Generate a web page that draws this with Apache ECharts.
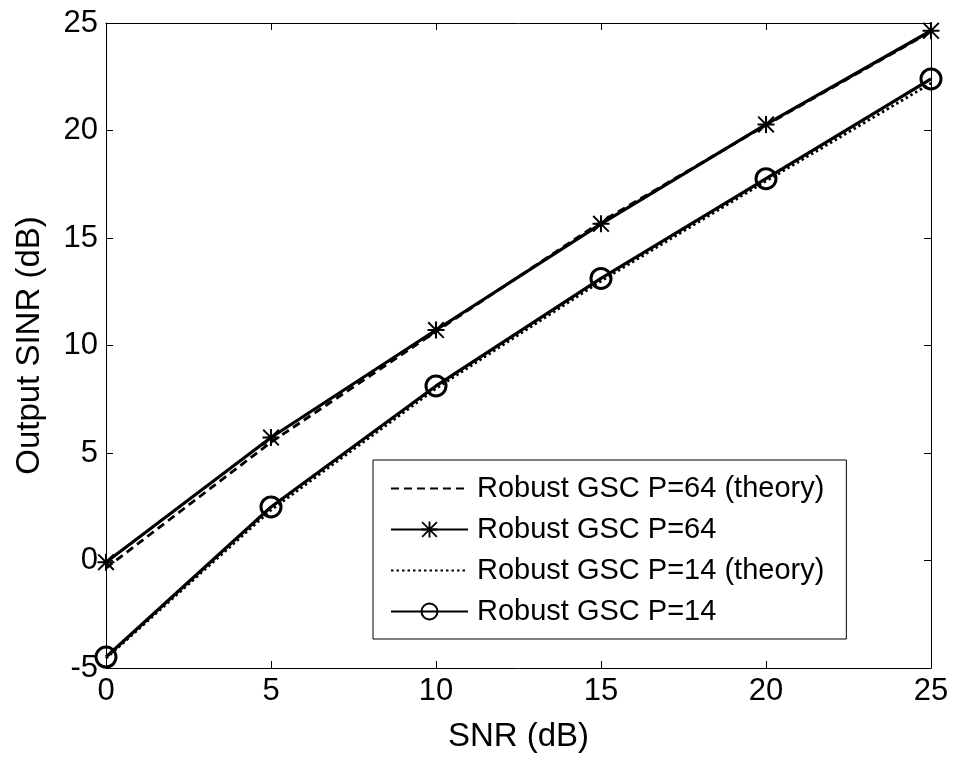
<!DOCTYPE html>
<html>
<head>
<meta charset="utf-8">
<script src="https://cdn.jsdelivr.net/npm/echarts@6/dist/echarts.min.js"></script>
<style>
  html, body { margin: 0; padding: 0; background: #fff; }
  #chart { width: 955px; height: 758px; }
</style>
</head>
<body>
<div id="chart"></div>
<script>
// SNR sweep (dB)
const snr = [0, 5, 10, 15, 20, 25];

// Output SINR (dB) for each configuration
const p64Theory = [-0.35, 5.5, 10.65, 15.75, 20.25, 24.6];
const p64Sim    = [-0.08, 5.72, 10.72, 15.66, 20.28, 24.64];
const p14Theory = [-4.55, 2.35, 8.0, 13.0, 17.65, 22.2];
const p14Sim    = [-4.49, 2.49, 8.12, 13.12, 17.76, 22.4];

const seriesNames = [
  'Robust GSC P=64 (theory)',
  'Robust GSC P=64',
  'Robust GSC P=14 (theory)',
  'Robust GSC P=14'
];

const xTicks = [0, 5, 10, 15, 20, 25];
const yTicks = [-5, 0, 5, 10, 15, 20, 25];

// '*' marker: horizontal, vertical and two diagonal strokes
const starPath = 'path://M0,44L100,44L100,56L0,56Z M44,0L56,0L56,100L44,100Z ' +
  'M8,0L100,92L92,100L0,8Z M92,0L100,8L8,100L0,92Z';

const FONT = 'Liberation Sans, Arial, Helvetica, sans-serif';

const pairs = ys => snr.map((x, i) => [x, ys[i]]);

const chart = echarts.init(document.getElementById('chart'), null, { renderer: 'canvas' });

const axisCommon = {
  axisLine: { show: true, onZero: false, lineStyle: { color: '#000', width: 1 } },
  axisTick: { show: true, inside: true, length: 7, lineStyle: { color: '#000', width: 1 } },
  splitLine: { show: false }
};

const LW = 3.2;

chart.setOption({
  animation: false,
  backgroundColor: '#fff',
  grid: { left: 106, right: 24, top: 23, bottom: 89, containLabel: false },
  xAxis: [
    Object.assign({
      type: 'value', min: 0, max: 25, interval: 5, position: 'bottom',
      name: 'SNR (dB)', nameLocation: 'middle', nameGap: 52,
      nameTextStyle: { color: '#000', fontSize: 33, fontFamily: FONT },
      axisLabel: {
        color: '#000', fontSize: 31, fontFamily: FONT, margin: 8,
        formatter: v => xTicks.includes(v) ? String(v) : ''
      }
    }, axisCommon),
    Object.assign({
      type: 'value', min: 0, max: 25, interval: 5, position: 'top',
      axisLabel: { show: false }
    }, axisCommon)
  ],
  yAxis: [
    Object.assign({
      type: 'value', min: -5, max: 25, interval: 5, position: 'left',
      name: 'Output SINR (dB)', nameLocation: 'middle', nameGap: 60,
      nameTextStyle: { color: '#000', fontSize: 33, fontFamily: FONT },
      axisLabel: {
        color: '#000', fontSize: 31, fontFamily: FONT, margin: 8,
        formatter: v => yTicks.includes(v) ? String(v) : ''
      }
    }, axisCommon),
    Object.assign({
      type: 'value', min: -5, max: 25, interval: 5, position: 'right',
      axisLabel: { show: false }
    }, axisCommon)
  ],
  legend: {
    orient: 'vertical',
    left: 373, top: 460,
    data: [
      { name: seriesNames[0], itemStyle: { opacity: 0 } },
      { name: seriesNames[1] },
      { name: seriesNames[2], itemStyle: { opacity: 0 } },
      { name: seriesNames[3] }
    ],
    itemWidth: 77, itemHeight: 20, itemGap: 12,
    padding: [14, 22, 13, 17],
    borderColor: '#000', borderWidth: 1,
    backgroundColor: '#fff',
    textStyle: { color: '#000', fontSize: 29, fontFamily: FONT, padding: [0, 0, 0, 4] },
    selectedMode: false
  },
  series: [
    {
      name: seriesNames[0], type: 'line', data: pairs(p64Theory),
      symbol: 'none', z: 2,
      itemStyle: { color: '#000' },
      lineStyle: { color: '#000', width: 2.8, type: [8, 5] }
    },
    {
      name: seriesNames[1], type: 'line', data: pairs(p64Sim),
      symbol: starPath, symbolSize: 17, z: 3,
      itemStyle: { color: '#000', borderWidth: 0 },
      lineStyle: { color: '#000', width: LW }
    },
    {
      name: seriesNames[2], type: 'line', data: pairs(p14Theory),
      symbol: 'none', z: 2,
      itemStyle: { color: '#000' },
      lineStyle: { color: '#000', width: 2.8, type: [2.5, 3] }
    },
    {
      name: seriesNames[3], type: 'line', data: pairs(p14Sim),
      symbol: 'circle', symbolSize: 20, z: 3,
      itemStyle: { color: 'rgba(0,0,0,0)', borderColor: '#000', borderWidth: 3 },
      lineStyle: { color: '#000', width: LW }
    }
  ]
});
</script>
</body>
</html>
